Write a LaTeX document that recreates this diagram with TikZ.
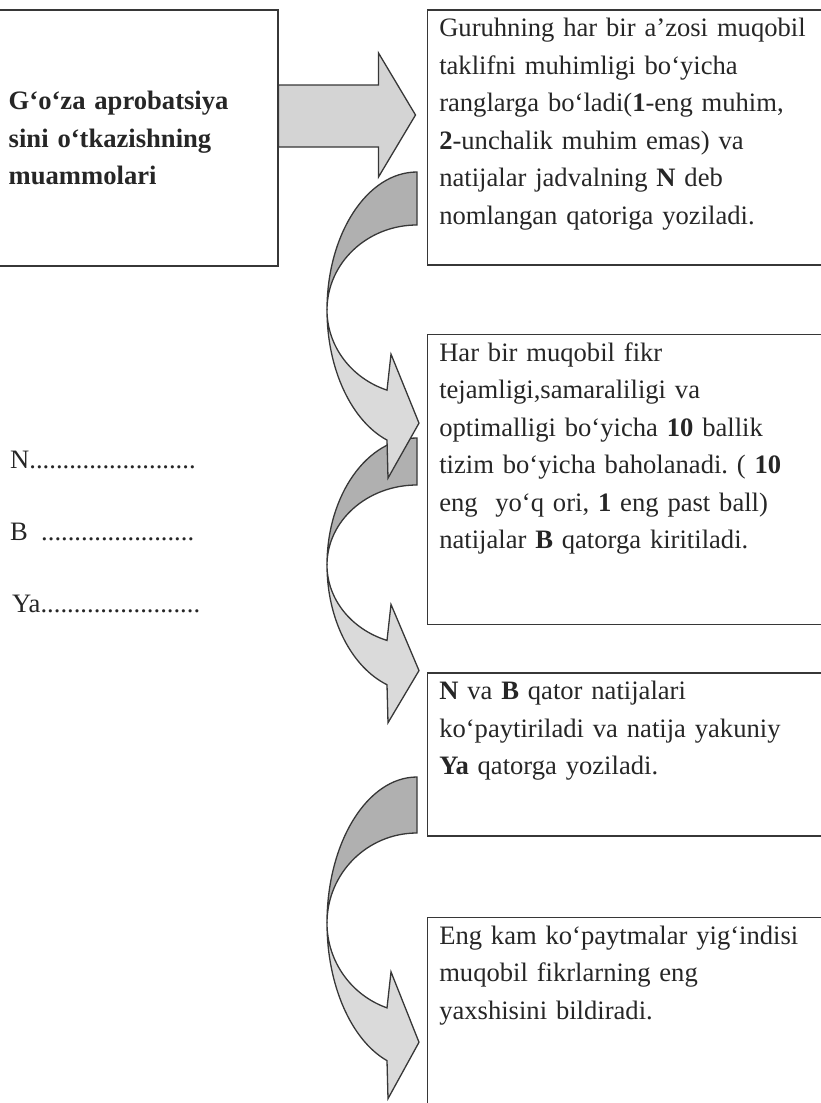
\documentclass[tikz,border=0pt]{standalone}
\usepackage{fontspec}
\setmainfont{Liberation Serif}
\usetikzlibrary{positioning,calc}
\definecolor{inkgray}{RGB}{38,38,38}
\definecolor{edgegray}{RGB}{55,55,55}
\definecolor{backgray}{RGB}{176,176,176}
\definecolor{frontgray}{RGB}{218,218,218}
\definecolor{blockgray}{RGB}{212,212,212}
\newcommand{\bodyfont}{\fontsize{26.6}{37.5}\selectfont\frenchspacing}
% bent arrow: #1 top of the band, #2 outer radius, #3 inner radius
\newcommand{\bentarrow}[3]{%
  \pgfmathsetmacro{\yL}{#1+#2}
  \pgfmathsetmacro{\yo}{\yL+0.9428*#2}
  \pgfmathsetmacro{\yi}{\yL+0.9428*#3}
  \pgfmathsetmacro{\ym}{(\yo+\yi)/2+8}
  \filldraw[bandback] (417,#1) arc[start angle=-90,end angle=-180,x radius=90,y radius=#2]
    arc[start angle=180,end angle=270,x radius=90,y radius=#3] -- cycle;
  \filldraw[bandfront] (327,\yL) arc[start angle=180,end angle=109.47,x radius=90,y radius=#2]
    -- (388,\yo+38) -- (419,\ym) -- (391,\yi-36) -- (387,\yi)
    arc[start angle=109.47,end angle=180,x radius=90,y radius=#3] -- cycle;
}

\begin{document}
\begin{tikzpicture}[
    x=1pt, y=-1pt,
    card/.style={draw=edgegray,line width=1.5,anchor=north west,text width=400,
      inner xsep=12,inner ysep=7,text height=20,align=left,font=\bodyfont,text=inkgray},
    leftbox/.style={draw=edgegray,line width=1.5,anchor=north west,text width=256,
      inner xsep=13,inner ysep=81,text height=19,text depth=75,align=left,
      font=\bodyfont\bfseries,text=inkgray},
    rowlabel/.style={anchor=base west,inner sep=0,font=\bodyfont,text=inkgray},
    blockarrow/.style={fill=blockgray,draw=edgegray,line width=1.3,line join=miter},
    bandback/.style={fill=backgray,draw=edgegray,line width=1.3},
    bandfront/.style={fill=frontgray,draw=edgegray,line width=1.3,line join=miter}
  ]
  \useasboundingbox (0,0) rectangle (821,1103);
  \clip (0,0) rectangle (821,1103);

  \node[leftbox] (prob) at (-5,9) {G‘o‘za aprobatsiya\\sini o‘tkazishning\\muammolari};

  \node[card,text depth=221,right=148pt of prob.north east,anchor=north west] (b1)
    {Guruhning har bir a’zosi muqobil\\taklifni muhimligi bo‘yicha\\
     ranglarga bo‘ladi(\textbf{1}-eng muhim,\\\textbf{2}-unchalik muhim emas) va\\
     natijalar jadvalning \textbf{N} deb\\nomlangan qatoriga yoziladi.};
  \node[card,text depth=256,below=68pt of b1] (b2)
    {Har bir muqobil fikr\\tejamligi,samaraliligi va\\
     optimalligi bo‘yicha \textbf{10} ballik\\tizim bo‘yicha baholanadi. ( \textbf{10}\\
     eng\ \ yo‘q ori, \textbf{1} eng past ball)\\natijalar \textbf{B} qatorga kiritiladi.};
  \node[card,text depth=129,below=47pt of b2] (b3)
    {\textbf{N} va \textbf{B} qator natijalari\\ko‘paytiriladi va natija yakuniy\\
     \textbf{Ya} qatorga yoziladi.};
  \node[card,text depth=153,below=80pt of b3] (b4)
    {Eng kam ko‘paytmalar yig‘indisi\\muqobil fikrlarning eng\\yaxshisini bildiradi.};

  \node[rowlabel] (nN) at (10,468) {N.........................};
  \node[rowlabel] (nB) at (10,540) {B\ \ .......................};
  \node[rowlabel] (nYa) at (12,612) {Ya........................};

  % block arrow from the problem to the first step
  \filldraw[blockarrow] ($(prob.north east)+(0,76)$) -- ++(100,0) -- ++(0,-32)
    -- ($(b1.north west)+(-11,106)$) -- ++(-37,62) -- ++(0,-30) -- ++(-100,0) -- cycle;

  % bent arrows between the steps
  \bentarrow{777}{146}{90}
  \bentarrow{438}{127}{80}
  \bentarrow{172}{138}{85}
\end{tikzpicture}
\end{document}
